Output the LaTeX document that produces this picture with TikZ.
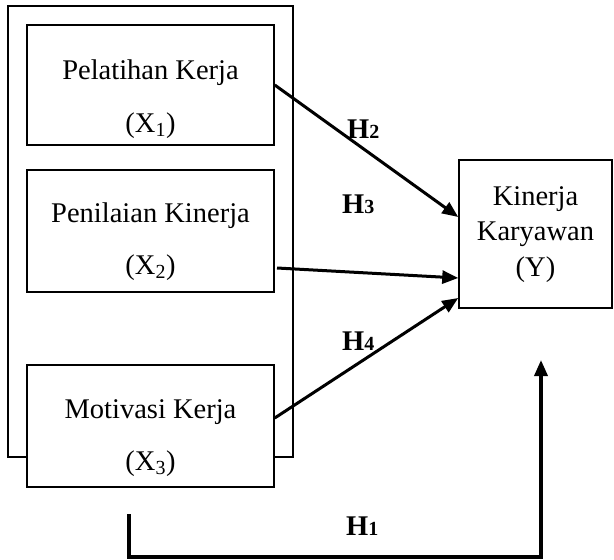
\documentclass[tikz,border=0pt]{standalone}
\usepackage{fontspec}
\setmainfont{Liberation Serif}
\usetikzlibrary{arrows.meta}
\tikzset{
  box/.style={draw, line width=1.5pt, fill=white, inner sep=0pt},
  txt/.style={anchor=base, inner sep=0pt, font=\fontsize{28.5}{32}\selectfont},
  hlab/.style={anchor=base west, inner sep=0pt, font=\fontsize{28.5}{30}\selectfont\bfseries},
  arr/.style={line width=3pt, -{Triangle[length=16pt,width=13pt]}},
}
\newcommand{\hsub}[1]{{\fontsize{20}{22}\selectfont #1}}
\begin{document}
\begin{tikzpicture}[x=1pt,y=-1pt]
\useasboundingbox (0,0) rectangle (614,560);
% outer frame
\draw[line width=1.5pt] (8,6) rectangle (293,457);
% boxes
\node[box, minimum width=247pt, minimum height=120pt] (x1) at (150.5,85) {};
\node[box, minimum width=247pt, minimum height=122pt] (x2) at (150.5,231) {};
\node[box, minimum width=247pt, minimum height=122pt] (x3) at (150.5,426) {};
\node[box, minimum width=153pt, minimum height=148pt] (y) at (535.5,234) {};
% texts
\node[txt] (t1a) at (150.5,79) {Pelatihan Kerja};
\node[txt] (t1b) at (150.5,132) {(X\textsubscript{1})};
\node[txt] (t2a) at (150.5,222) {Penilaian Kinerja};
\node[txt] (t2b) at (150.5,274) {(X\textsubscript{2})};
\node[txt] (t3a) at (150.5,418) {Motivasi Kerja};
\node[txt] (t3b) at (150.5,470) {(X\textsubscript{3})};
\node[txt] (ya) at (535.5,205) {Kinerja};
\node[txt] (yb) at (535.5,240) {Karyawan};
\node[txt] (yc) at (535.5,276) {(Y)};
% arrows
\coordinate (s2) at (277,268);
\draw[arr] (x1.east |- 0,85) -- (y.west |- 0,217);
\draw[arr] (s2) -- (y.west |- 0,278);
\draw[arr] (x3.east |- 0,418) -- (y.west |- 0,298);
\coordinate (h1s) at (129,514);
\coordinate (h1c) at (129,557);
\coordinate (h1e) at (541,360);
\draw[arr, line width=3.5pt] (h1s) -- (h1c) -- (h1e |- h1c) -- (h1e);
% labels
\node[hlab] (h2) at (347,138) {H\hsub{2}};
\node[hlab] (h3) at (342,213) {H\hsub{3}};
\node[hlab] (h4) at (342,350) {H\hsub{4}};
\node[hlab] (h1) at (346,535) {H\hsub{1}};
\end{tikzpicture}
\end{document}
